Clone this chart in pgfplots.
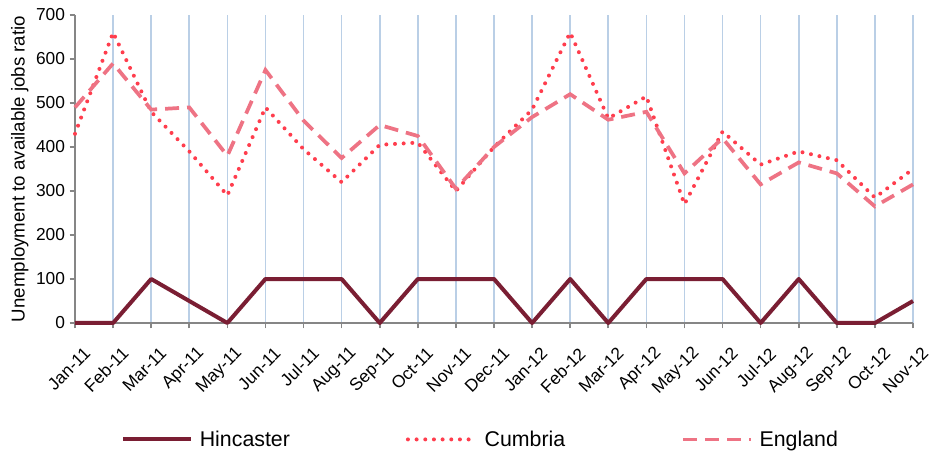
\documentclass[border=0pt]{standalone}
\usepackage{fontspec}
\setmainfont{Liberation Sans}
\usepackage{pgfplots}
\pgfplotsset{compat=1.18}
\definecolor{hinc}{HTML}{7A1E33}
\definecolor{cumb}{HTML}{FF3D4D}
\definecolor{engl}{HTML}{EE7384}
\definecolor{gridblue}{HTML}{BACFE6}
\definecolor{axgray}{HTML}{868686}

\pgfplotstableread{
x hinc cumb engl
0  0   430 490
1  0   660 590
2  100 480 485
3  50  390 490
4  0   290 380
5  100 490 575
6  100 395 460
7  100 320 375
8  0   405 450
9  100 410 425
10 100 300 305
11 100 400 400
12 0   485 468
13 100 660 520
14 0   465 462
15 100 515 480
16 100 270 340
17 100 435 420
18 0   360 315
19 100 390 365
20 0   370 340
21 0   285 265
22 50  350 315
}\ratios

\begin{document}
\begin{tikzpicture}
\begin{axis}[
  scale only axis, width=628.5pt, height=231pt,
  xmin=0, xmax=22, ymin=0, ymax=700,
  xtick=data,
  xticklabels={Jan-11,Feb-11,Mar-11,Apr-11,May-11,Jun-11,Jul-11,Aug-11,Sep-11,Oct-11,Nov-11,Dec-11,
    Jan-12,Feb-12,Mar-12,Apr-12,May-12,Jun-12,Jul-12,Aug-12,Sep-12,Oct-12,Nov-12},
  ytick={0,100,...,700},
  axis lines=left, axis line style={-, axgray, line width=1.2pt},
  tick style={axgray, line width=1.2pt}, tick align=outside, major tick length=4pt,
  xmajorgrids, grid style={gridblue, line width=1.2pt},
  clip=false,
  tick label style={font=\fontsize{13}{14}\selectfont},
  /pgf/number format/assume math mode=true,
  xticklabel style={xshift=10pt, yshift=-16pt, rotate=45, anchor=east, inner sep=1pt},
  ylabel={Unemployment to available jobs ratio},
  ylabel style={at={(axis description cs:-0.066,0.5)}, anchor=center, font=\fontsize{14}{16}\selectfont},
  legend columns=3,
  legend style={draw=none, at={(axis description cs:0.05,-0.378)}, anchor=west,
    font=\fontsize{16}{18}\selectfont,
    /tikz/every odd column/.append style={column sep=3pt},
    /tikz/every even column/.append style={column sep=85pt}},
  legend image code/.code={\draw[#1] (0pt,0pt) -- (51pt,0pt);},
]
  \addplot[hinc, line width=3pt, line join=round] table[x=x, y=hinc] {\ratios};
  \addplot[cumb, line width=3pt, line cap=round, dash pattern=on 0pt off 6.5pt] table[x=x, y=cumb] {\ratios};
  \addplot[engl, line width=2.8pt, dash pattern=on 10.5pt off 6pt] table[x=x, y=engl] {\ratios};
  \legend{Hincaster, Cumbria, England}
\end{axis}
\pgfresetboundingbox
\path[use as bounding box] (-56.25pt,-96.75pt) rectangle (641.25pt,242.25pt);
\end{tikzpicture}
\end{document}
